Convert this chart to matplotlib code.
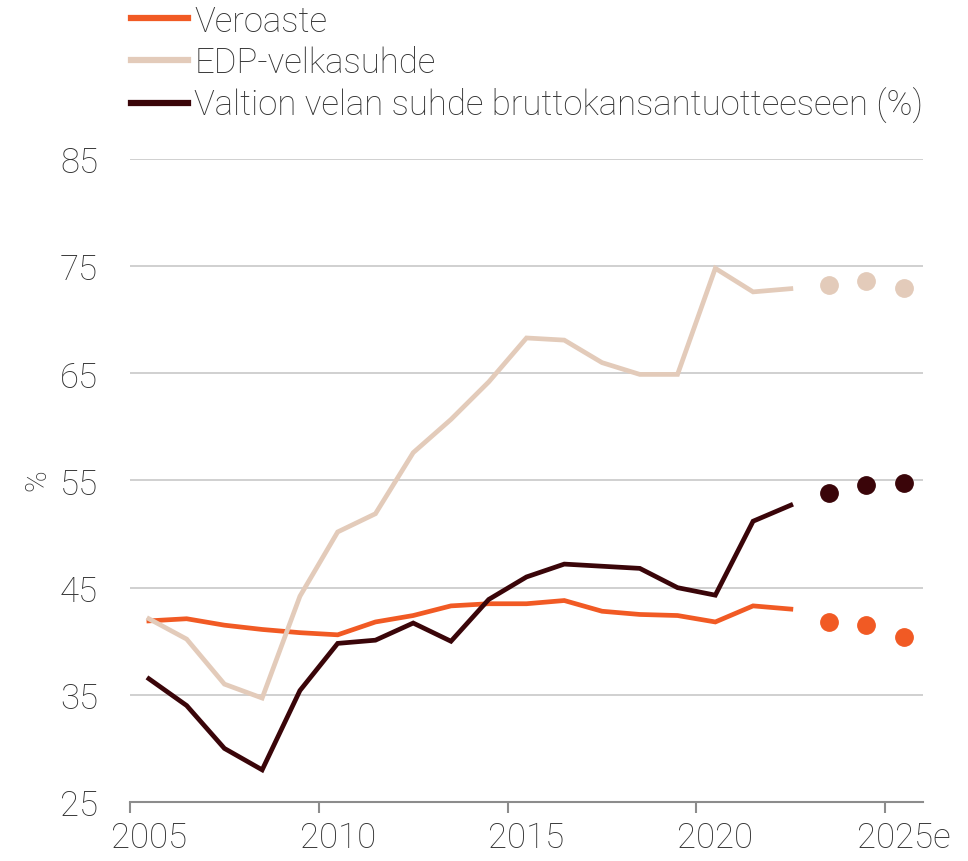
import matplotlib.pyplot as plt
from matplotlib.lines import Line2D

years = list(range(2005, 2026))
tick_labels = ["2005", "2010", "2015", "2020", "2025e"]

# Historical values 2005-2022, forecasts 2023-2025
veroaste = [41.9, 42.1, 41.5, 41.1, 40.8, 40.6, 41.8, 42.4, 43.3, 43.5,
            43.5, 43.8, 42.8, 42.5, 42.4, 41.8, 43.3, 43.0]
veroaste_e = [41.8, 41.5, 40.4]

edp = [42.1, 40.2, 36.0, 34.7, 44.2, 50.2, 51.9, 57.6, 60.7, 64.2,
       68.3, 68.1, 66.0, 64.9, 64.9, 74.8, 72.6, 72.9]
edp_e = [73.2, 73.6, 73.0]

valtion = [36.5, 34.0, 30.0, 28.0, 35.4, 39.8, 40.1, 41.7, 40.0, 43.9,
           46.0, 47.2, 47.0, 46.8, 45.0, 44.3, 51.2, 52.7]
valtion_e = [53.8, 54.6, 54.8]

labels = ["Veroaste", "EDP-velkasuhde",
          "Valtion velan suhde bruttokansantuotteeseen (%)"]
colors = ["#F15A24", "#E3CBBA", "#3A0509"]

plt.rcParams["font.family"] = ["Roboto", "DejaVu Sans"]
text_color = "#333333"

fig = plt.figure(figsize=(9.68, 8.62), dpi=100)
ax = fig.add_axes([130 / 968, 1 - 803 / 862, 793 / 968, 643 / 862])

n_hist = len(veroaste)
x_hist = list(range(n_hist))
x_est = list(range(n_hist, len(years)))

series = [(veroaste, veroaste_e), (edp, edp_e), (valtion, valtion_e)]
order = [1, 2, 0]  # draw beige first, then dark, then orange on top
for i in order:
    hist, est = series[i]
    ax.plot(x_hist, hist, color=colors[i], lw=3.4, solid_joinstyle="miter",
            zorder=3 + i)
    ax.plot(x_est, est, linestyle="none", marker="o", ms=12.5,
            color=colors[i], zorder=3 + i)

ax.set_xlim(-0.5, len(years) - 0.5)
ax.set_ylim(25, 85)
ax.set_yticks([25, 35, 45, 55, 65, 75, 85])
ax.yaxis.grid(True, color="#C8C8C8", lw=1.2)
ax.set_axisbelow(True)

label_pos = [years.index(int(t[:4])) for t in tick_labels]
ax.set_xticks(label_pos)
ax.set_xticklabels(tick_labels)
ax.set_xticks([p - 0.5 for p in label_pos], minor=True)
ax.tick_params(axis="x", which="major", length=0, pad=13, labelsize=25,
               labelcolor=text_color)
ax.tick_params(axis="x", which="minor", length=8, width=1.5, color="#8C8C8C",
               direction="out")
ax.tick_params(axis="y", length=0, pad=23, labelsize=25, labelcolor=text_color)
for lab in ax.get_xticklabels() + ax.get_yticklabels():
    lab.set_fontweight("light")

for side in ["top", "right", "left"]:
    ax.spines[side].set_visible(False)
ax.spines["bottom"].set_color("#8C8C8C")
ax.spines["bottom"].set_linewidth(1.5)

fig.text(37 / 968, 1 - 480 / 862, "%", rotation=90, ha="center", va="center",
         fontsize=21, color=text_color, fontweight="light")

handles = [Line2D([0], [0], color=c, lw=4.5) for c in colors]
fig.legend(handles, labels, loc="upper left",
           bbox_to_anchor=(131 / 968, 1 - 5 / 862), frameon=False,
           handlelength=1.65, handletextpad=0.17,
           labelspacing=0.23, borderpad=0, borderaxespad=0,
           labelcolor=text_color,
           prop={"weight": "light", "size": 25})

fig.savefig("out.png", dpi=100)
